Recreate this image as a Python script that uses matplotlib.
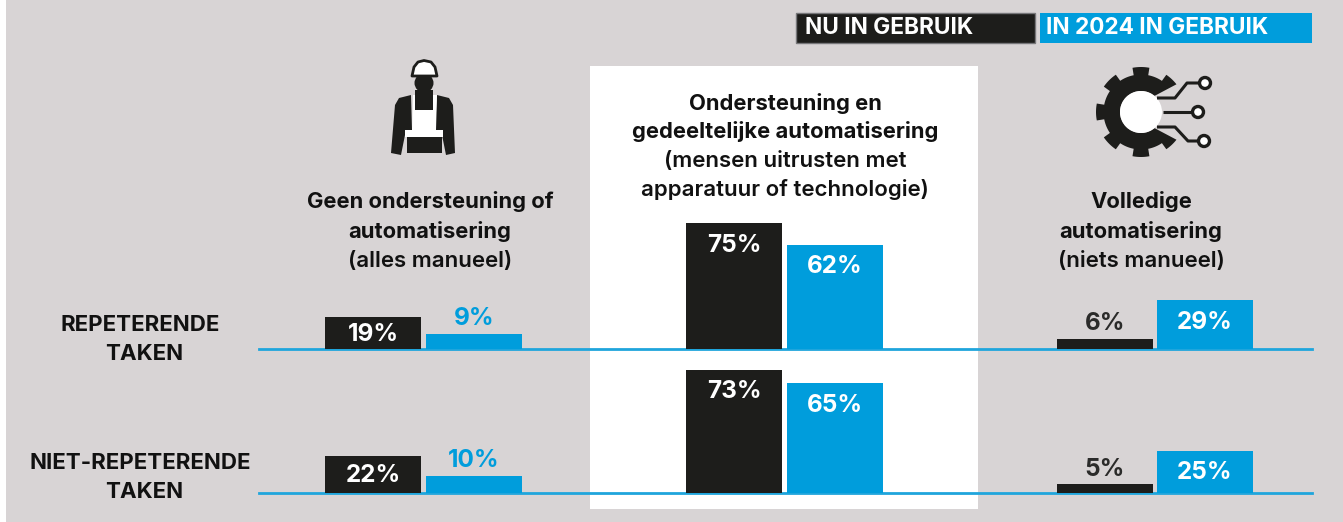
import numpy as np
import matplotlib
matplotlib.use("Agg")
import matplotlib.pyplot as plt
from matplotlib.patches import Rectangle, Circle, Polygon, Ellipse

plt.rcParams['font.family'] = ['Inter', 'DejaVu Sans']

# ── data ──────────────────────────────
rows        = ["REPETERENDE\nTAKEN", "NIET-REPETERENDE\nTAKEN"]
nu_gebruik  = [[19, 75, 6], [22, 73, 5]]
in_2024     = [[9, 62, 29], [10, 65, 25]]
legend_nu   = "NU IN GEBRUIK"
legend_2024 = "IN 2024 IN GEBRUIK"

BLACK = '#1d1d1b'
BLUE  = '#009ddc'
BG    = '#d8d4d5'
W, H  = 1343, 522
PX_PER_PCT = 1.68
BASELINES  = [349, 492.5]
BAR_LEFT   = [(325, 426), (686, 787), (1057, 1157)]
BAR_W      = 96

fig = plt.figure(figsize=(W / 100, H / 100), dpi=100, facecolor='white')

# overlay in pixel coords (origin top-left) for panel, text, icons
bg = fig.add_axes([0, 0, 1, 1])
bg.set_xlim(0, W)
bg.set_ylim(H, 0)
bg.axis('off')
bg.add_patch(Rectangle((6, 0), W - 6, H, fc=BG, ec='none'))
bg.add_patch(Rectangle((590, 66), 388, 443, fc='white', ec='none'))

# legend
bg.add_patch(Rectangle((796, 13), 239, 30, fc=BLACK, ec='#77777a', lw=1))
bg.add_patch(Rectangle((1040, 13), 272, 30, fc=BLUE, ec='none'))
bg.text(805, 28.5, legend_nu, color='white', fontsize=16.3, fontweight='bold', va='center')
bg.text(1046, 28.5, legend_2024, color='white', fontsize=16.3, fontweight='bold', va='center')


def head_text(x, y_lines, lines):
    for y, (s, w, fs) in zip(y_lines, lines):
        bg.text(x, y + 1, s, ha='center', va='center', fontsize=fs, fontweight=w, color='#111111')


head_text(430, [201, 231, 260], [("Geen ondersteuning of", 'bold', 15.8), ("automatisering", 'bold', 15.8),
                                 ("(alles manueel)", 'semibold', 16)])
head_text(785, [102, 131, 160, 189], [("Ondersteuning en", 'bold', 15.8), ("gedeeltelijke automatisering", 'bold', 15.8),
                                      ("(mensen uitrusten met", 'semibold', 16), ("apparatuur of technologie)", 'semibold', 16)])
head_text(1141, [201, 231, 260], [("Volledige", 'bold', 15.8), ("automatisering", 'bold', 15.8),
                                  ("(niets manueel)", 'semibold', 16)])

# row labels
for y, label in zip([325, 463], rows):
    a, b = label.split("\n")
    bg.text(140, y, a, ha='center', va='center', fontsize=16, fontweight='bold', color='#111111')
    bg.text(144, y + 29, b, ha='center', va='center', fontsize=16, fontweight='bold', color='#111111')

# worker icon
bg.add_patch(Polygon([(411, 95), (399, 98), (395, 105), (391, 153), (401, 155), (406, 130), (412, 130)], fc=BLACK))
bg.add_patch(Polygon([(437, 95), (449, 98), (453, 105), (455, 153), (446, 155), (441, 130), (435, 130)], fc=BLACK))
bg.add_patch(Polygon([(413, 95), (437, 95), (436, 130), (443, 130), (443, 137), (405, 137), (405, 130), (412, 130)], fc='white'))
bg.add_patch(Polygon([(415, 90), (433, 90), (433, 110), (415, 110)], fc=BLACK))
bg.add_patch(Rectangle((407, 137), 35, 16, fc=BLACK))
bg.add_patch(Ellipse((424, 83), 19, 19, fc=BLACK))
bg.add_patch(Polygon([(412, 76), (414, 67), (418, 62), (424, 60.5), (431, 62), (435, 67), (437, 76)],
                     fc='white', ec=BLACK, lw=2, joinstyle='round'))

# gear icon: ring open to the right, ends cut on a slant
cx, cy = 1141, 112
theta = np.radians(np.linspace(38, 322, 800))
inner = np.radians(np.linspace(50, 310, 400))
phase = np.abs(((np.degrees(theta) + 22.5) % 45) - 22.5)
outer = np.where(phase < 11, 45, 37.5)
gear = np.r_[np.c_[cx + outer * np.cos(theta), cy - outer * np.sin(theta)],
             np.c_[cx + 21 * np.cos(inner[::-1]), cy - 21 * np.sin(inner[::-1])]]
bg.add_patch(Polygon(gear, fc=BLACK, ec='none'))
bg.add_patch(Circle((cx, cy), 21, fc='white', ec='none'))
traces = [[(1157, 98), (1175, 98), (1187, 83), (1200, 83)],
          [(1163, 112), (1193, 112)],
          [(1157, 127), (1175, 127), (1188, 141), (1200, 141)]]
for t in traces:
    bg.plot(*zip(*t), color=BLACK, lw=2.2, solid_capstyle='butt')
for c in [(1205, 83), (1198, 112), (1204, 141)]:
    bg.add_patch(Circle(c, 5.5, fc='white', ec=BLACK, lw=2.4))

# bars: one transparent axes per row, y in percent
AX_H = 140
for r, base in enumerate(BASELINES):
    ax = fig.add_axes([0, (H - base) / H, 1, AX_H / H])
    ax.set_xlim(0, W)
    ax.set_ylim(0, AX_H / PX_PER_PCT)
    ax.axis('off')
    ax.patch.set_alpha(0)
    ax.plot([259, 1312], [0, 0], color='#1fa5dc', lw=2, clip_on=False, zorder=1)
    for g, (x_nu, x_24) in enumerate(BAR_LEFT):
        for x, v, col in [(x_nu, nu_gebruik[r][g], BLACK), (x_24, in_2024[r][g], BLUE)]:
            ax.bar(x, v, width=BAR_W, align='edge', color=col, zorder=2, clip_on=False)
            h_px = v * PX_PER_PCT
            if v >= 15:
                off, tc = -min(21, h_px / 2), 'white'
            else:
                off, tc = 16, BLUE if col == BLUE else '#2b2b2a'
            # offset in px -> points
            ax.annotate(f"{v}%", (x + BAR_W / 2, v), xytext=(0, (off - 1) * 0.72), textcoords='offset points',
                        ha='center', va='center', color=tc, fontsize=17.5, fontweight='bold', zorder=3,
                        annotation_clip=False)

fig.savefig("out.png", dpi=100)
